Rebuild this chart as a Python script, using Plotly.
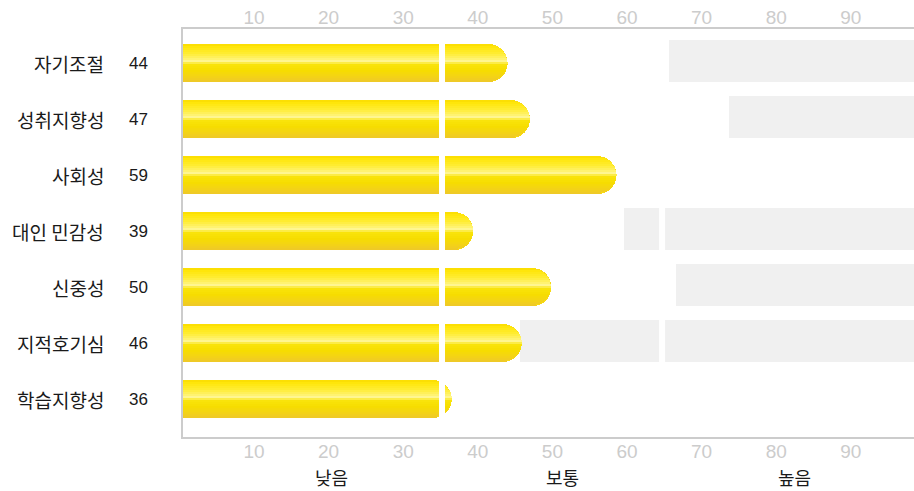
import plotly.graph_objects as go

# ---------------- data ----------------
categories = ["자기조절", "성취지향성", "사회성", "대인 민감성", "신중성", "지적호기심", "학습지향성"]
scores = [44, 47, 59, 39, 50, 46, 36]
bar_lengths = [44.0, 47.0, 58.6, 39.4, 49.8, 45.9, 36.5]
gray_starts = [65.6, 73.7, None, 59.6, 66.6, 45.6, None]
gray_end = 100
tick_values = [10, 20, 30, 40, 50, 60, 70, 80, 90]
level_labels = ["낮음", "보통", "높음"]
level_positions = [20.4, 51.4, 82.5]
cut_points = [35.2, 64.7]

# ---------------- layout geometry ----------------
W, H = 914, 491
ML, MR, MT = 183, 0, 29
PLOT_BOTTOM = 437
MB = H - PLOT_BOTTOM
XR = [0.48, 98.47]
YR = [6.676, -0.61]
plot_w = W - ML - MR
plot_h = H - MT - MB
px_per_x = plot_w / (XR[1] - XR[0])
px_per_y = plot_h / (YR[0] - YR[1])

bar_px = 38.0
bar_w = bar_px / px_per_y
gray_top_px = 23.5
gray_bot_px = 19.0
gray_w = (gray_top_px + gray_bot_px) / px_per_y

rows = list(range(len(categories)))

fig = go.Figure()

# gray bands
fig.add_trace(go.Bar(
    y=rows,
    x=[(gray_end - s) if s is not None else None for s in gray_starts],
    base=[s if s is not None else 0 for s in gray_starts],
    orientation="h", width=gray_w, offset=-gray_top_px / px_per_y,
    marker=dict(color="#f0f0f0", line=dict(width=0)),
    hoverinfo="skip", showlegend=False,
))

# base yellow bar with rounded end
fig.add_trace(go.Bar(
    y=rows, x=bar_lengths, base=0, orientation="h",
    width=bar_w, offset=-bar_w / 2,
    marker=dict(color="#f7da14", line=dict(width=0), cornerradius="50%"),
    hoverinfo="skip", showlegend=False,
))

# gradient stripes
profile = [
    (0.00, (250, 220, 0)),
    (0.08, (255, 230, 10)),
    (0.25, (255, 236, 50)),
    (0.40, (255, 243, 115)),
    (0.47, (255, 248, 160)),
    (0.52, (250, 228, 12)),
    (0.70, (246, 221, 0)),
    (0.86, (243, 211, 22)),
    (1.00, (238, 200, 42)),
]


def col_at(t):
    for (t0, c0), (t1, c1) in zip(profile[:-1], profile[1:]):
        if t0 <= t <= t1:
            f = (t - t0) / (t1 - t0) if t1 > t0 else 0
            c = [round(a + (b - a) * f) for a, b in zip(c0, c1)]
            return "rgb(%d,%d,%d)" % tuple(c)
    return "rgb(%d,%d,%d)" % profile[-1][1]


N = 19
s_px = bar_px / N
r = bar_px / 2
for k in range(N):
    top = -r + k * s_px
    center = top + s_px / 2
    d = min(abs(center) + s_px / 2 * 0.6, r)
    cut = (r - (r * r - d * d) ** 0.5) / px_per_x
    fig.add_trace(go.Bar(
        y=rows, x=[v - cut for v in bar_lengths], base=0, orientation="h",
        width=(s_px + 0.3) / px_per_y, offset=top / px_per_y,
        marker=dict(color=col_at((k + 0.5) / N), line=dict(width=0)),
        hoverinfo="skip", showlegend=False,
    ))

# dummy trace for the top axis
fig.add_trace(go.Scatter(x=[None], y=[None], xaxis="x2", yaxis="y",
                         showlegend=False, hoverinfo="skip"))

# white separators
for c in cut_points:
    fig.add_shape(type="line", xref="x", yref="y", x0=c, x1=c,
                  y0=-0.5, y1=6.45, line=dict(color="white", width=6),
                  layer="above")

font_main = "Liberation Sans, Arial, Noto Sans CJK KR"
font_kr = "Noto Sans CJK KR, Liberation Sans"
label_color = "#1a1a1a"

for i, (cat, sc) in enumerate(zip(categories, scores)):
    fig.add_annotation(x=(106 - ML) / plot_w, xref="paper", y=i, yref="y",
                       text=cat, showarrow=False, xanchor="right",
                       yanchor="middle",
                       font=dict(size=19, color=label_color, family=font_kr))
    fig.add_annotation(x=(138 - ML) / plot_w, xref="paper", y=i, yref="y",
                       text=str(sc), showarrow=False, xanchor="center",
                       yanchor="middle",
                       font=dict(size=17, color=label_color, family=font_main))

for lab, pos in zip(level_labels, level_positions):
    fig.add_annotation(x=pos, xref="x", y=-(477 - PLOT_BOTTOM) / plot_h,
                       yref="paper", text=lab, showarrow=False,
                       xanchor="center", yanchor="middle",
                       font=dict(size=18, color=label_color, family=font_kr))

tickfont = dict(size=19, color="#cccccc", family=font_main)
fig.update_layout(
    width=W, height=H,
    margin=dict(l=ML, r=MR, t=MT, b=MB, pad=0),
    paper_bgcolor="white", plot_bgcolor="white",
    barmode="overlay", bargap=0,
    hovermode=False,
    xaxis=dict(range=XR, tickvals=tick_values, showgrid=False, zeroline=False,
               showline=True, linecolor="#cccccc", linewidth=2, mirror=True,
               ticks="", tickfont=tickfont, fixedrange=True,
               ticklabelstandoff=-4),
    xaxis2=dict(range=XR, tickvals=tick_values, overlaying="x", side="top",
                matches="x", showgrid=False, zeroline=False, showline=False,
                ticks="", tickfont=tickfont, fixedrange=True),
    yaxis=dict(range=YR, showgrid=False, zeroline=False, showticklabels=False,
               showline=True, linecolor="#cccccc", linewidth=2, ticks="",
               fixedrange=True),
)

page_fix = ("document.documentElement.style.margin='0';"
            "document.documentElement.style.overflow='hidden';"
            "document.body.style.margin='0';"
            "document.body.style.padding='0';"
            "document.body.style.overflow='hidden';")

fig.write_html("out.html", post_script=page_fix,
               config={"displayModeBar": False, "staticPlot": True})
